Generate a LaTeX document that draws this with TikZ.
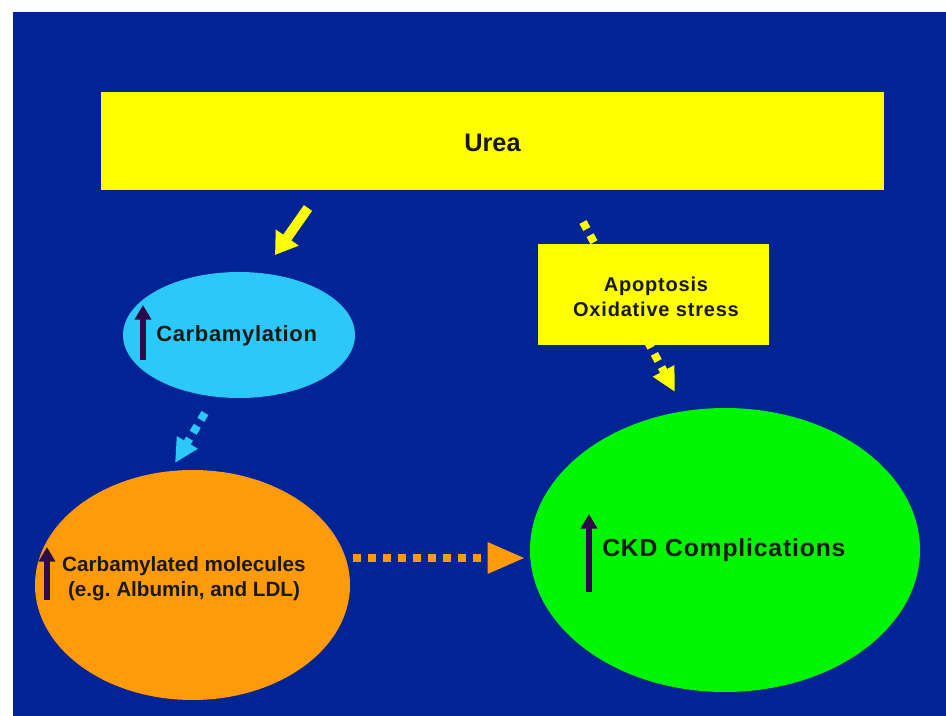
\documentclass[tikz,border=0pt]{standalone}
\usepackage{fontspec}
\setmainfont{Liberation Sans}
\usetikzlibrary{arrows.meta,shapes.geometric}
\definecolor{bgblue}{RGB}{0,35,150}
\definecolor{ureayellow}{RGB}{255,255,0}
\definecolor{carbblue}{RGB}{45,200,250}
\definecolor{molorange}{RGB}{255,155,10}
\definecolor{ckdgreen}{RGB}{0,245,0}
\definecolor{uparrow}{RGB}{46,10,74}
\definecolor{txt}{RGB}{25,25,20}
\frenchspacing
\tikzset{
  ybox/.style={rectangle, fill=ureayellow, draw=none, inner sep=0pt},
  ell/.style={ellipse, draw=none, inner sep=0pt},
  lbl/.style={text=txt, font=\bfseries, inner sep=0pt, align=center},
  uparr/.style={draw=uparrow, line width=5pt, -{Triangle[length=11pt,width=12pt]}},
  dotarr/.style={line width=6pt, dash pattern=on 6pt off 5.25pt, line cap=butt},
}
\begin{document}
\begin{tikzpicture}[x=0.75pt,y=-0.75pt]
\useasboundingbox (0,0) rectangle (946,716);
\fill[white] (0,0) rectangle (946,716);
\fill[bgblue] (13,12) rectangle (946,716);

% shapes
\node[ybox, minimum width=587.25pt, minimum height=73.5pt] (urea) at (492.5,141) {};
\node[lbl, font=\bfseries\fontsize{19}{22}\selectfont] (urealbl) at (492.5,143) {Urea};

\node[ell, fill=carbblue, minimum width=174pt, minimum height=94.5pt] (carb) at (239,335) {};
\node[ell, fill=molorange, minimum width=236.25pt, minimum height=172.5pt] (mol) at (192.5,585) {};
\node[ell, fill=ckdgreen, minimum width=292.5pt, minimum height=213pt] (ckd) at (725,550) {};

% dotted yellow arrow (behind box)
\coordinate (ya1) at (583,222);
\coordinate (ya2) at (675,392);
\draw[dotarr, draw=ureayellow, -{Triangle[length=18pt,width=17pt]}] (ya1) -- (ya2);

\node[ybox, minimum width=173.25pt, minimum height=75.75pt] (apo) at (653.5,294.5) {};
\node[lbl, font=\bfseries\fontsize{15}{18.75}\selectfont\addfontfeature{LetterSpace=4}] (apolbl) at (656,297) {Apoptosis\\Oxidative stress};

% labels
\node[lbl, anchor=west, font=\bfseries\fontsize{16.5}{20}\selectfont\addfontfeature{LetterSpace=3}] (carblbl) at (156,336) {Carbamylation};
\node[lbl, font=\bfseries\fontsize{15.5}{18.75}\selectfont] (mollbl) at (184,579) {Carbamylated molecules\\(e.g.\ Albumin, and LDL)};
\node[lbl, anchor=west, font=\bfseries\fontsize{18.5}{22}\selectfont\addfontfeature{LetterSpace=3.5}] (ckdlbl) at (602,550) {CKD Complications};

% up arrows
\coordinate (cu1) at (143,360); \coordinate (cu2) at (143,305);
\draw[uparr] (cu1) -- (cu2);
\coordinate (mu1) at (47,600); \coordinate (mu2) at (47,547);
\draw[uparr] (mu1) -- (mu2);
\coordinate (ku1) at (589,592); \coordinate (ku2) at (589,514);
\draw[uparr] (ku1) -- (ku2);

% solid yellow arrow
\coordinate (s1) at (308,208); \coordinate (s2) at (275,255);
\draw[draw=ureayellow, line width=7.5pt, -{Triangle[length=16pt,width=20pt]}] (s1) -- (s2);

% cyan dotted arrow
\coordinate (c1) at (205,413); \coordinate (c2) at (175,463);
\draw[dotarr, draw=carbblue, -{Triangle[length=18pt,width=17pt]}] (c1) -- (c2);

% orange dotted arrow
\coordinate (o1) at (353,558); \coordinate (o2) at (525,558);
\draw[dotarr, draw=molorange, -{Triangle[length=28pt,width=22pt]}] (o1) -- (o2);
\end{tikzpicture}
\end{document}
